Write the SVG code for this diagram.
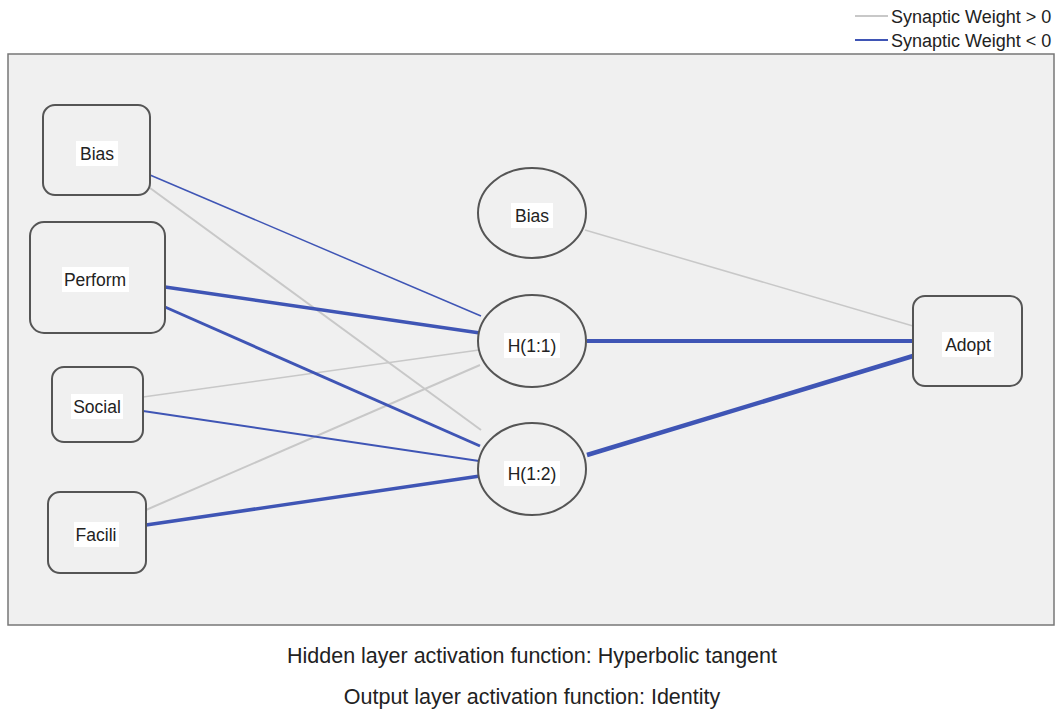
<svg xmlns="http://www.w3.org/2000/svg" width="1058" height="714" viewBox="0 0 1058 714">
<style>
text{font-family:"Liberation Sans",Arial,sans-serif;fill:#222}
.node rect.box,.node ellipse{fill:#f0f0f0;stroke:#555;stroke-width:2}
.lbl{fill:#fff}
.nl{font-size:17.5px;text-anchor:middle}
.pos{stroke:#c8c8c8;fill:none}
.neg{stroke:#3f55b5;fill:none}
.cap{font-size:21.5px;text-anchor:middle}
.leg{font-size:18px}
</style>
<rect width="1058" height="714" fill="#fff"/>
<g id="legend">
<line x1="855" y1="16" x2="888" y2="16" class="pos" stroke-width="2"/>
<text x="891" y="23" class="leg">Synaptic Weight &gt; 0</text>
<line x1="855" y1="40" x2="888" y2="40" class="neg" stroke-width="2"/>
<text x="891" y="47" class="leg">Synaptic Weight &lt; 0</text>
</g>
<rect id="panel" x="8" y="54" width="1046" height="571" fill="#f0f0f0" stroke="#777" stroke-width="1.5"/>
<g id="connectors">
<line x1="150" y1="188" x2="481" y2="430" class="pos" stroke-width="2"/>
<line x1="143" y1="397" x2="479" y2="350" class="pos" stroke-width="1.5"/>
<line x1="146" y1="510" x2="480" y2="365" class="pos" stroke-width="2"/>
<line x1="585" y1="230" x2="913" y2="326" class="pos" stroke-width="1.5"/>
<line x1="150" y1="175" x2="481" y2="316" class="neg" stroke-width="1.5"/>
<line x1="165" y1="287" x2="480" y2="333" class="neg" stroke-width="3.5"/>
<line x1="165" y1="307" x2="480" y2="446" class="neg" stroke-width="3"/>
<line x1="143" y1="411" x2="479" y2="461" class="neg" stroke-width="2"/>
<line x1="146" y1="525" x2="480" y2="476" class="neg" stroke-width="3.5"/>
<line x1="587" y1="341" x2="913" y2="341" class="neg" stroke-width="4"/>
<line x1="587" y1="455" x2="913" y2="356" class="neg" stroke-width="4.5"/>
</g>
<g id="n-bias-in" class="node">
<rect class="box" x="43" y="105" width="107" height="90" rx="12"/>
<rect class="lbl" x="76" y="141" width="42" height="25"/>
<text x="97" y="160" class="nl">Bias</text>
</g>
<g id="n-perform" class="node">
<rect class="box" x="30" y="222" width="135" height="111" rx="14"/>
<rect class="lbl" x="62" y="267" width="67" height="25"/>
<text x="95" y="286" class="nl">Perform</text>
</g>
<g id="n-social" class="node">
<rect class="box" x="52" y="367" width="91" height="75" rx="12"/>
<rect class="lbl" x="71" y="394" width="52" height="25"/>
<text x="97" y="413" class="nl">Social</text>
</g>
<g id="n-facili" class="node">
<rect class="box" x="48" y="492" width="98" height="81" rx="12"/>
<rect class="lbl" x="74" y="522" width="45" height="25"/>
<text x="96" y="541" class="nl">Facili</text>
</g>
<g id="n-bias-h" class="node">
<ellipse cx="532" cy="213" rx="54" ry="45"/>
<rect class="lbl" x="511" y="203" width="42" height="25"/>
<text x="532" y="222" class="nl">Bias</text>
</g>
<g id="n-h11" class="node">
<ellipse cx="532" cy="341" rx="54" ry="46"/>
<rect class="lbl" x="504" y="333" width="56" height="25"/>
<text x="532" y="352" class="nl">H(1:1)</text>
</g>
<g id="n-h12" class="node">
<ellipse cx="532" cy="469" rx="54" ry="46"/>
<rect class="lbl" x="504" y="461" width="56" height="25"/>
<text x="532" y="480" class="nl">H(1:2)</text>
</g>
<g id="n-adopt" class="node">
<rect class="box" x="913" y="296" width="109" height="90" rx="12"/>
<rect class="lbl" x="942" y="332" width="52" height="25"/>
<text x="968" y="351" class="nl">Adopt</text>
</g>
<text x="532" y="663" class="cap">Hidden layer activation function: Hyperbolic tangent</text>
<text x="532" y="704" class="cap">Output layer activation function: Identity</text>
</svg>
